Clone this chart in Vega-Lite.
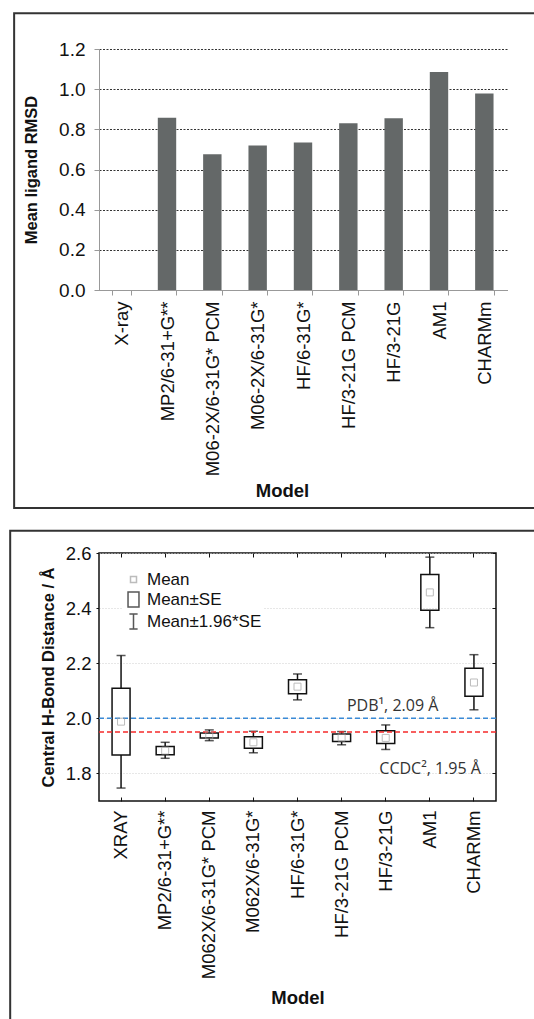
{
  "$schema": "https://vega.github.io/schema/vega-lite/v6.json",
  "padding": {"left": 8, "top": 12, "right": 0, "bottom": 0},
  "background": "white",
  "config": {
    "font": "Liberation Sans",
    "view": {"stroke": null},
    "axis": {"labelFont": "Liberation Sans", "titleFont": "Liberation Sans", "labelColor": "#111", "titleColor": "#111", "titleFontWeight": "bold", "labelLimit": 400},
    "legend": {"labelFont": "Liberation Sans"}
  },
  "datasets": {
    "one": [{}],
    "rmsd": [
      {"model": "X-ray", "rmsd": 0},
      {"model": "MP2/6-31+G**", "rmsd": 0.858},
      {"model": "M06-2X/6-31G* PCM", "rmsd": 0.676},
      {"model": "M06-2X/6-31G*", "rmsd": 0.72},
      {"model": "HF/6-31G*", "rmsd": 0.734},
      {"model": "HF/3-21G PCM", "rmsd": 0.83},
      {"model": "HF/3-21G", "rmsd": 0.855},
      {"model": "AM1", "rmsd": 1.086},
      {"model": "CHARMm", "rmsd": 0.978}
    ],
    "hbond": [
      {"model": "XRAY", "lo": 1.747, "q1": 1.867, "mean": 1.988, "q3": 2.109, "hi": 2.228, "kind": "Mean"},
      {"model": "MP2/6-31+G**", "lo": 1.855, "q1": 1.868, "mean": 1.883, "q3": 1.898, "hi": 1.913, "kind": "Mean"},
      {"model": "M062X/6-31G* PCM", "lo": 1.919, "q1": 1.929, "mean": 1.938, "q3": 1.947, "hi": 1.958, "kind": "Mean"},
      {"model": "M062X/6-31G*", "lo": 1.875, "q1": 1.891, "mean": 1.913, "q3": 1.933, "hi": 1.953, "kind": "Mean"},
      {"model": "HF/6-31G*", "lo": 2.067, "q1": 2.089, "mean": 2.115, "q3": 2.14, "hi": 2.161, "kind": "Mean"},
      {"model": "HF/3-21G PCM", "lo": 1.904, "q1": 1.916, "mean": 1.93, "q3": 1.943, "hi": 1.952, "kind": "Mean"},
      {"model": "HF/3-21G", "lo": 1.887, "q1": 1.909, "mean": 1.929, "q3": 1.955, "hi": 1.976, "kind": "Mean"},
      {"model": "AM1", "lo": 2.329, "q1": 2.392, "mean": 2.457, "q3": 2.522, "hi": 2.585, "kind": "Mean"},
      {"model": "CHARMm", "lo": 2.031, "q1": 2.08, "mean": 2.13, "q3": 2.182, "hi": 2.231, "kind": "Mean"}
    ]
  },
  "bounds": "flush",
  "spacing": 263,
  "resolve": {"legend": {"shape": "independent", "color": "independent"}},
  "vconcat": [
    {
      "width": 408,
      "height": 241,
      "layer": [
        {
          "data": {"name": "one"},
          "mark": {"type": "rect", "filled": false, "stroke": "#333", "strokeWidth": 2},
          "encoding": {
            "x": {"datum": -0.208, "type": "quantitative", "scale": {"domain": [0, 1], "nice": false, "zero": false}, "axis": null},
            "x2": {"datum": 1.09},
            "y": {"datum": 1.148, "type": "quantitative", "scale": {"domain": [0, 1], "nice": false, "zero": false}, "axis": null},
            "y2": {"datum": -0.905}
          }
        },
        {
          "data": {"name": "rmsd"},
          "mark": {"type": "bar", "color": "#646868"},
          "encoding": {
            "x": {
              "field": "model", "type": "nominal", "sort": null,
              "scale": {"type": "band", "paddingInner": 0.594, "paddingOuter": 0.297},
              "axis": {"title": "Model", "titleX": 183, "labelAngle": -90, "labelFontSize": 18.5, "tickBand": "extent", "tickSize": 5, "domainColor": "#999", "tickColor": "#999", "labelPadding": 6, "titleFontSize": 18.5, "titlePadding": 6}
            },
            "y": {
              "field": "rmsd", "type": "quantitative",
              "scale": {"domain": [0, 1.2], "nice": false},
              "axis": {"values": [0, 0.2, 0.4, 0.6, 0.8, 1.0, 1.2], "format": ".1f", "title": "Mean ligand RMSD", "titleFontSize": 16.5, "titlePadding": 19, "labelFontSize": 19, "labelPadding": 9, "domainColor": "#999", "tickColor": "#999", "tickSize": 5, "grid": true, "gridColor": "#333", "gridDash": [2, 1.5], "gridWidth": 1}
            }
          }
        }
      ],
      "resolve": {"scale": {"x": "independent", "y": "independent"}}
    },
    {
      "width": 397,
      "height": 248,
      "view": {"stroke": "#111", "strokeWidth": 1.5},
      "layer": [
        {
          "data": {"name": "one"},
          "mark": {"type": "rect", "filled": false, "stroke": "#333", "strokeWidth": 2},
          "encoding": {
            "x": {"datum": -0.2237, "type": "quantitative", "scale": {"domain": [0, 1], "nice": false, "zero": false}, "axis": null},
            "x2": {"datum": 1.118},
            "y": {"datum": 1.0894, "type": "quantitative", "scale": {"domain": [0, 1], "nice": false, "zero": false}, "axis": null},
            "y2": {"datum": -0.922}
          }
        },
        {
          "layer": [
            {
              "layer": [
                {
                  "data": {"name": "hbond"},
                  "mark": {"type": "rule", "color": "#111", "strokeWidth": 1.5},
                  "encoding": {
                    "x": {
                      "field": "model", "type": "nominal", "sort": null,
                      "scale": {"type": "band", "paddingInner": 0, "paddingOuter": 0},
                      "axis": {"title": "Model", "labelAngle": -90, "labelFontSize": 18.5, "tickSize": -4, "tickColor": "#111", "labelPadding": 13, "domain": false, "titleFontSize": 18.5, "titlePadding": 10}
                    },
                    "y": {
                      "field": "lo", "type": "quantitative",
                      "scale": {"domain": [1.7, 2.6], "nice": false, "zero": false},
                      "axis": {"values": [1.8, 2.0, 2.2, 2.4, 2.6], "format": ".1f", "title": "Central H-Bond Distance / Å", "titleFontSize": 16.5, "titlePadding": 9, "labelFontSize": 18.5, "labelPadding": 5, "tickSize": 3, "tickColor": "#111", "domain": false, "grid": true, "gridColor": "#cfcfcf", "gridDash": [1, 2], "gridWidth": 1}
                    },
                    "y2": {"field": "q1"}
                  }
                },
                {
                  "data": {"name": "hbond"},
                  "mark": {"type": "rule", "color": "#111", "strokeWidth": 1.5},
                  "encoding": {
                    "x": {"field": "model", "type": "nominal", "sort": null, "scale": {"type": "band", "paddingInner": 0, "paddingOuter": 0}},
                    "y": {"field": "q3", "type": "quantitative", "scale": {"domain": [1.7, 2.6], "nice": false, "zero": false}},
                    "y2": {"field": "hi"}
                  }
                },
                {
                  "data": {"name": "hbond"},
                  "mark": {"type": "bar", "width": 18, "filled": false, "stroke": "#111", "strokeWidth": 1.5},
                  "encoding": {
                    "x": {"field": "model", "type": "nominal", "sort": null, "scale": {"type": "band", "paddingInner": 0, "paddingOuter": 0}},
                    "y": {"field": "q1", "type": "quantitative", "scale": {"domain": [1.7, 2.6], "nice": false, "zero": false}},
                    "y2": {"field": "q3"}
                  }
                },
                {
                  "data": {"name": "hbond"},
                  "mark": {"type": "tick", "color": "#111", "size": 9, "thickness": 1.5},
                  "encoding": {
                    "x": {"field": "model", "type": "nominal", "sort": null, "scale": {"type": "band", "paddingInner": 0, "paddingOuter": 0}},
                    "y": {"field": "lo", "type": "quantitative", "scale": {"domain": [1.7, 2.6], "nice": false, "zero": false}}
                  }
                },
                {
                  "data": {"name": "hbond"},
                  "mark": {"type": "tick", "color": "#111", "size": 9, "thickness": 1.5},
                  "encoding": {
                    "x": {"field": "model", "type": "nominal", "sort": null, "scale": {"type": "band", "paddingInner": 0, "paddingOuter": 0}},
                    "y": {"field": "hi", "type": "quantitative", "scale": {"domain": [1.7, 2.6], "nice": false, "zero": false}}
                  }
                },
                {
                  "data": {"name": "one"},
                  "mark": {"type": "rule", "color": "#3a8ad6", "strokeWidth": 1.5, "strokeDash": [5, 3]},
                  "encoding": {"y": {"datum": 2.0, "type": "quantitative"}}
                },
                {
                  "data": {"name": "one"},
                  "mark": {"type": "rule", "color": "#f52a2a", "strokeWidth": 1.5, "strokeDash": [5, 3]},
                  "encoding": {"y": {"datum": 1.95, "type": "quantitative"}}
                },
                {
                  "data": {"name": "one"},
                  "mark": {"type": "text", "align": "right", "baseline": "alphabetic", "font": "Open Sans", "fontWeight": "normal", "fontSize": 16, "color": "#333", "dx": 8.5, "dy": -7.7},
                  "encoding": {
                    "x": {"datum": "AM1", "type": "nominal"},
                    "y": {"datum": 2.0, "type": "quantitative"},
                    "text": {"value": "PDB¹, 2.09 Å"}
                  }
                },
                {
                  "data": {"name": "one"},
                  "mark": {"type": "text", "align": "right", "baseline": "alphabetic", "font": "Open Sans", "fontWeight": "normal", "fontSize": 16, "color": "#333", "dx": 7, "dy": 41.5},
                  "encoding": {
                    "x": {"datum": "CHARMm", "type": "nominal"},
                    "y": {"datum": 1.95, "type": "quantitative"},
                    "text": {"value": "CCDC², 1.95 Å"}
                  }
                }
              ]
            },
            {
              "data": {"name": "hbond"},
              "mark": {"type": "point", "filled": false, "size": 306, "strokeWidth": 1},
              "encoding": {
                "x": {
                  "field": "model", "type": "nominal", "sort": null,
                  "scale": {"type": "band", "paddingInner": 0, "paddingOuter": 0},
                  "axis": {"orient": "top", "labels": false, "title": null, "domain": false, "tickSize": -4, "tickColor": "#111", "grid": false}
                },
                "y": {
                  "field": "mean", "type": "quantitative",
                  "scale": {"domain": [1.7, 2.6], "nice": false, "zero": false},
                  "axis": {"orient": "right", "values": [1.8, 2.0, 2.2, 2.4, 2.6], "labels": false, "title": null, "domain": false, "tickSize": -4, "tickColor": "#111", "grid": false}
                },
                "shape": {
                  "field": "kind", "type": "nominal",
                  "scale": {"domain": ["Mean", "Mean±SE", "Mean±1.96*SE"], "range": ["M-0.4,-0.4H0.4V0.4H-0.4Z", "M-0.73,-1H0.73V1H-0.73Z", "M-0.55,-1H0.55M0,-1V1M-0.55,1H0.55"]},
                  "legend": {"orient": "none", "legendX": 24, "legendY": 16, "title": null, "symbolSize": 225, "symbolStrokeWidth": 1.5, "labelFontSize": 17, "labelOffset": 5, "rowPadding": 1, "fillColor": "white", "padding": 2, "labelColor": "#111"}
                },
                "color": {
                  "field": "kind", "type": "nominal",
                  "scale": {"domain": ["Mean", "Mean±SE", "Mean±1.96*SE"], "range": ["#a0a0a0", "#111111", "#111111"]},
                  "legend": {"orient": "none", "legendX": 24, "legendY": 16, "title": null, "symbolSize": 225, "symbolStrokeWidth": 1.5, "labelFontSize": 17, "labelOffset": 5, "rowPadding": 1, "fillColor": "white", "padding": 2, "labelColor": "#111"}
                }
              }
            }
          ],
          "resolve": {"axis": {"x": "independent", "y": "independent"}}
        }
      ],
      "resolve": {"scale": {"x": "independent", "y": "independent"}}
    }
  ]
}
